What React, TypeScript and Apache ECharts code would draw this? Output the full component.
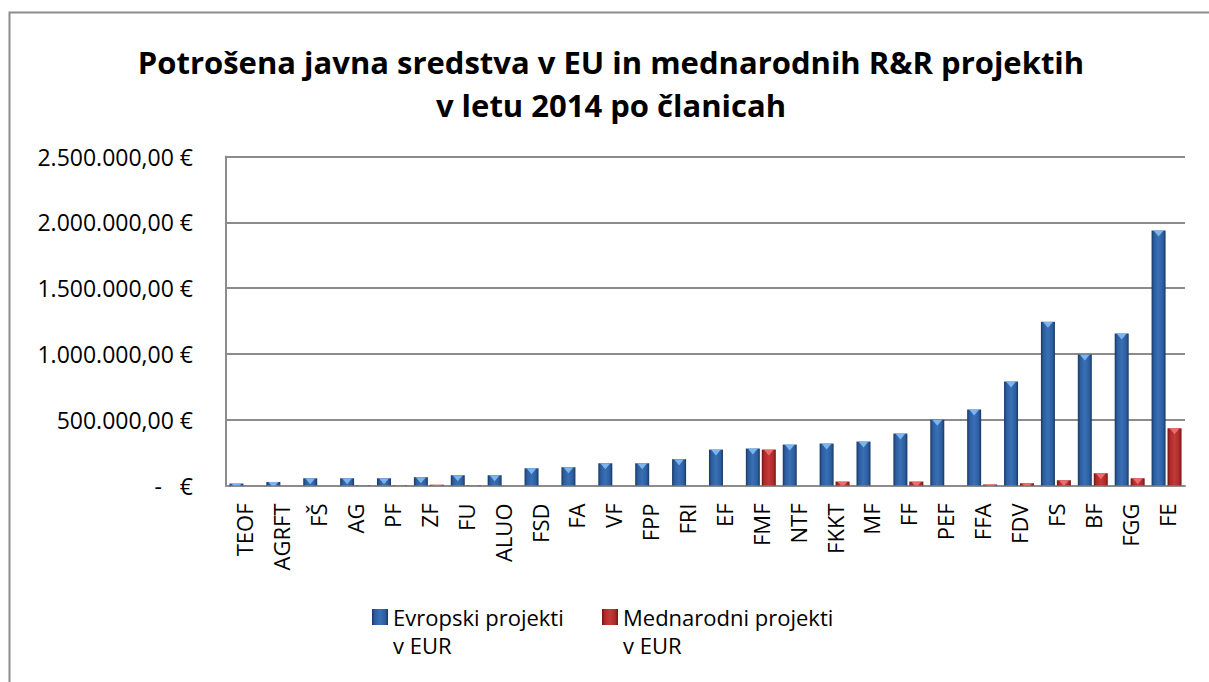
import React, { useEffect, useRef } from "react";
import * as echarts from "echarts";

const categories = ["TEOF", "AGRFT", "FŠ", "AG", "PF", "ZF", "FU", "ALUO", "FSD", "FA", "VF", "FPP", "FRI", "EF", "FMF", "NTF", "FKKT", "MF", "FF", "PEF", "FFA", "FDV", "FS", "BF", "FGG", "FE"];
const evropski = [15000, 27000, 55000, 55000, 55000, 63000, 78000, 78000, 131000, 139000, 169000, 169000, 200000, 273000, 281000, 311000, 319000, 334000, 395000, 500000, 577000, 791000, 1244000, 996000, 1155000, 1937000];
const mednarodni = [0, 0, 0, 3000, 3000, 6000, 3000, 0, 0, 0, 0, 0, 0, 0, 273000, 0, 30000, 0, 30000, 0, 8000, 17000, 40000, 93000, 55000, 435000];
const seriesNames = ["Evropski projekti v EUR", "Mednarodni projekti v EUR"];
const titleLines = ["Potrošena javna sredstva v EU in mednarodnih R&R projektih", "v letu 2014 po članicah"];
const yTicks = { min: 0, max: 2500000, interval: 500000 };

const FONT = "'Open Sans', 'DejaVu Sans', sans-serif";

function fmtEuro(v: number): string {
  if (v === 0) return "-   €";
  const s = Math.round(v).toString().replace(/\B(?=(\d{3})+(?!\d))/g, ".");
  return s + ",00 €";
}

const blueGrad = new echarts.graphic.LinearGradient(0, 0, 1, 0, [
  { offset: 0, color: "#173763" },
  { offset: 0.18, color: "#2C5E9F" },
  { offset: 0.5, color: "#3A6FB6" },
  { offset: 0.82, color: "#2C5E9F" },
  { offset: 1, color: "#173763" },
]);
const redGrad = new echarts.graphic.LinearGradient(0, 0, 1, 0, [
  { offset: 0, color: "#6E1414" },
  { offset: 0.18, color: "#B02A2A" },
  { offset: 0.5, color: "#C43939" },
  { offset: 0.82, color: "#B02A2A" },
  { offset: 1, color: "#6E1414" },
]);

export default function App() {
  const ref = useRef<HTMLDivElement>(null);
  useEffect(() => {
    if (!ref.current) return;
    const chart = echarts.init(ref.current, undefined, { renderer: "svg" });
    const barW = 14;
    const gap = "14%";
    const option: any = {
      animation: false,
      backgroundColor: "#ffffff",
      textStyle: { fontFamily: FONT },
      title: {
        text: titleLines.join("\n"),
        left: 611,
        textAlign: "center",
        top: 40,
        padding: 0,
        textStyle: { fontFamily: FONT, fontWeight: "bold", fontSize: 31, lineHeight: 43, color: "#000" },
      },
      legend: [
        {
          data: [seriesNames[0]],
          left: 372,
          top: 604,
          itemWidth: 16,
          itemHeight: 16,
          itemGap: 0,
          padding: 0,
          icon: "rect",
          formatter: () => "Evropski projekti",
          textStyle: { fontFamily: FONT, fontSize: 22, color: "#000", lineHeight: 26 },
        },
        {
          data: [seriesNames[1]],
          left: 602,
          top: 604,
          itemWidth: 16,
          itemHeight: 16,
          itemGap: 0,
          padding: 0,
          icon: "rect",
          formatter: () => "Mednarodni projekti",
          textStyle: { fontFamily: FONT, fontSize: 22, color: "#000", lineHeight: 26 },
        },
      ],
      graphic: [
        {
          type: "polyline",
          shape: { points: [[9.5, 700], [9.5, 12.5], [1220, 12.5]] },
          style: { stroke: "#8C8C8C", lineWidth: 2, fill: null },
          silent: true,
        },
        {
          type: "text",
          left: 393,
          top: 634,
          style: { text: "v EUR", font: `22px ${FONT}`, fill: "#000" },
        },
        {
          type: "text",
          left: 623,
          top: 634,
          style: { text: "v EUR", font: `22px ${FONT}`, fill: "#000" },
        },
      ],
      grid: { left: 226, right: 24, top: 156.5, bottom: 196.5, containLabel: false },
      xAxis: {
        type: "category",
        data: categories,
        axisLine: { lineStyle: { color: "#8C8C8C", width: 2 } },
        axisTick: { show: false },
        axisLabel: { rotate: 90, margin: 18, fontSize: 22, color: "#000", fontFamily: FONT, interval: 0 },
      },
      yAxis: {
        type: "value",
        min: yTicks.min,
        max: yTicks.max,
        interval: yTicks.interval,
        axisLine: { show: true, lineStyle: { color: "#8C8C8C", width: 2 } },
        axisTick: { show: false },
        splitLine: { lineStyle: { color: "#8C8C8C", width: 2 } },
        axisLabel: { formatter: fmtEuro, margin: 33, fontSize: 23, color: "#000", fontFamily: FONT },
      },
      series: [
        {
          name: seriesNames[0],
          type: "bar",
          data: evropski,
          barWidth: barW,
          barGap: gap,
          itemStyle: { color: blueGrad },
        },
        {
          name: seriesNames[1],
          type: "bar",
          data: mednarodni,
          barWidth: barW,
          barGap: gap,
          itemStyle: { color: redGrad },
        },
        {
          name: seriesNames[0],
          type: "pictorialBar",
          data: evropski,
          barWidth: barW,
          barGap: gap,
          symbol: "triangle",
          symbolRotate: 180,
          symbolSize: [10, 6],
          symbolPosition: "end",
          symbolClip: true,
          itemStyle: { color: "#7DB4EE" },
          z: 3,
        },
        {
          name: seriesNames[1],
          type: "pictorialBar",
          data: mednarodni,
          barWidth: barW,
          barGap: gap,
          symbol: "triangle",
          symbolRotate: 180,
          symbolSize: [10, 6],
          symbolPosition: "end",
          symbolClip: true,
          itemStyle: { color: "#EE6B6B" },
          z: 3,
        },
      ],
    };
    chart.setOption(option);
    return () => chart.dispose();
  }, []);
  return <div ref={ref} style={{ position: "absolute", left: 0, top: 0, width: 1209, height: 682 }} />;
}
